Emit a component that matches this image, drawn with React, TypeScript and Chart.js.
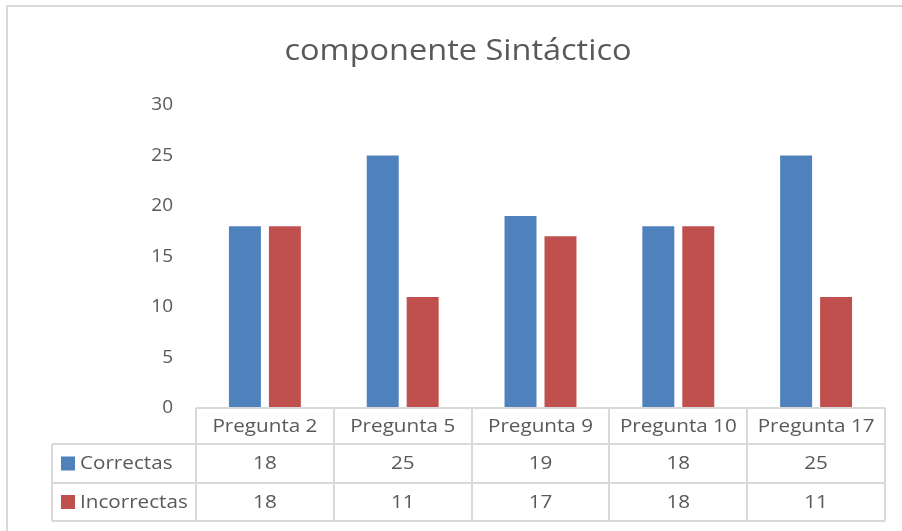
import React, { useEffect, useRef } from "react";
import { Chart, registerables } from "chart.js";

Chart.register(...registerables);

const categories = ["Pregunta 2", "Pregunta 5", "Pregunta 9", "Pregunta 10", "Pregunta 17"];
const correctas = [18, 25, 19, 18, 25];
const incorrectas = [18, 11, 17, 18, 11];
const seriesNames = ["Correctas", "Incorrectas"];
const seriesColors = ["#4f81bd", "#c0504d"];
const titleText = "componente Sintáctico";
const yMax = 30;
const yStep = 5;

const FONT = "'Open Sans', sans-serif";
const TEXT = "#595959";
const LINE = "#d9d9d9";

function drawText(
  ctx: CanvasRenderingContext2D,
  text: string,
  x: number,
  y: number,
  align: CanvasTextAlign,
  size: number,
  sx: number
) {
  ctx.save();
  ctx.translate(x, y);
  ctx.scale(sx, 1);
  ctx.font = `${size}px ${FONT}`;
  ctx.textAlign = align;
  ctx.fillText(text, 0, 0);
  ctx.restore();
}

const tablePlugin = {
  id: "dataTable",
  afterDraw(chart: any) {
    const ctx = chart.ctx as CanvasRenderingContext2D;
    const area = chart.chartArea;
    const xs = chart.scales.x;
    const n = categories.length;
    const colW = (area.right - area.left) / n;
    const top = area.bottom;
    const rowH = [36, 39, 38];
    const r1 = top + rowH[0];
    const r2 = r1 + rowH[1];
    const r3 = r2 + rowH[2];
    const legendLeft = 52;

    ctx.save();
    // outer frame
    ctx.strokeStyle = LINE;
    ctx.lineWidth = 2;
    ctx.beginPath();
    ctx.moveTo(7, 540);
    ctx.lineTo(7, 6);
    ctx.lineTo(910, 6);
    ctx.stroke();

    // title
    ctx.fillStyle = TEXT;
    ctx.textBaseline = "alphabetic";
    drawText(ctx, titleText, 458, 60, "center", 28.5, 1.14);

    // table lines
    ctx.strokeStyle = LINE;
    ctx.lineWidth = 2;
    ctx.beginPath();
    ctx.moveTo(area.left, top);
    ctx.lineTo(area.right, top);
    for (const y of [r1, r2, r3]) {
      ctx.moveTo(legendLeft, y);
      ctx.lineTo(area.right, y);
    }
    ctx.moveTo(legendLeft, r1);
    ctx.lineTo(legendLeft, r3);
    for (let i = 0; i <= n; i++) {
      const x = Math.round(area.left + i * colW);
      ctx.moveTo(x, top);
      ctx.lineTo(x, r3);
    }
    ctx.stroke();

    // texts
    ctx.fillStyle = TEXT;
    ctx.textBaseline = "middle";
    const data = [correctas, incorrectas];
    categories.forEach((c, i) => {
      const cx = xs.getPixelForValue(i);
      drawText(ctx, c, cx, (top + r1) / 2 + 1, "center", 17.5, 1.18);
      drawText(ctx, String(data[0][i]), cx, (r1 + r2) / 2 + 1, "center", 17.5, 1.18);
      drawText(ctx, String(data[1][i]), cx, (r2 + r3) / 2 + 1, "center", 17.5, 1.18);
    });
    // legend column
    const rowsMid = [(r1 + r2) / 2, (r2 + r3) / 2];
    seriesNames.forEach((s, k) => {
      ctx.fillStyle = seriesColors[k];
      ctx.fillRect(61, rowsMid[k] - 7, 14, 14);
      ctx.fillStyle = TEXT;
      drawText(ctx, s, 80, rowsMid[k] + 1, "left", 17.5, 1.18);
    });
    ctx.restore();
  },
};

export default function App() {
  const ref = useRef<HTMLCanvasElement>(null);
  useEffect(() => {
    const chart = new Chart(ref.current!, {
      type: "bar",
      data: {
        labels: categories,
        datasets: [
          { label: seriesNames[0], data: correctas, backgroundColor: seriesColors[0] },
          { label: seriesNames[1], data: incorrectas, backgroundColor: seriesColors[1] },
        ],
      },
      options: {
        animation: false,
        responsive: false,
        layout: { padding: { left: 0, top: 105, right: 17, bottom: 123 } },
        datasets: { bar: { categoryPercentage: 0.58, barPercentage: 0.8 } },
        plugins: { legend: { display: false }, title: { display: false }, tooltip: { enabled: false } },
        scales: {
          x: { display: false, offset: true },
          y: {
            min: 0,
            max: yMax,
            afterFit: (s: any) => {
              s.width = 196;
              s.paddingTop = 10;
              s.paddingBottom = 10;
            },
            grid: { display: false, drawTicks: false },
            border: { display: false },
            ticks: { stepSize: yStep, padding: 23, color: TEXT, font: { family: FONT, size: 19 } },
          },
        },
      },
      plugins: [tablePlugin],
    });
    return () => chart.destroy();
  }, []);
  return (
    <div style={{ position: "absolute", left: 0, top: 0, width: 902, height: 531, background: "#fff" }}>
      <canvas ref={ref} width={902} height={531} style={{ display: "block" }} />
    </div>
  );
}
